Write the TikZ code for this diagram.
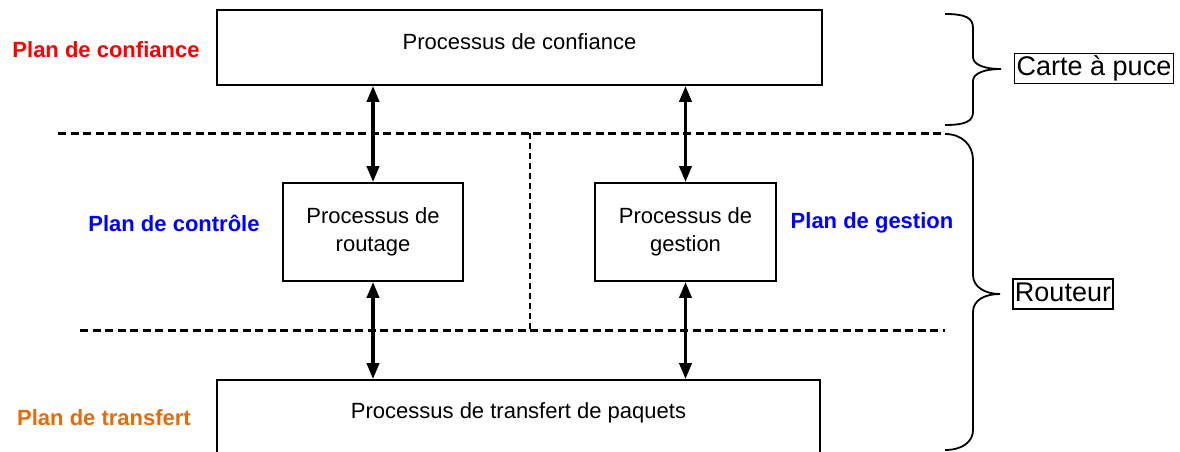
\documentclass[tikz,border=0pt]{standalone}
\usepackage{fontspec}
\setmainfont{Liberation Sans}
\usetikzlibrary{arrows.meta}
\definecolor{planred}{RGB}{255,0,0}
\definecolor{planblue}{RGB}{0,0,255}
\definecolor{planorange}{RGB}{228,108,10}
\begin{document}
\begin{tikzpicture}[x=1pt,y=-1pt,
 proc/.style={draw,line width=1.7pt,font=\fontsize{22}{28}\selectfont,align=center,inner sep=0pt},
 plan/.style={font=\bfseries\fontsize{22}{26}\selectfont},
 tag/.style={draw,line width=1.5pt,font=\fontsize{27}{32}\selectfont,inner sep=2pt,text height=20pt,text depth=6pt},
 flow/.style={line width=3.6pt,{Triangle[width=12pt,length=16pt]}-{Triangle[width=12pt,length=16pt]}},
 sep/.style={line width=3pt,dash pattern=on 8pt off 4.5pt},
 vsep/.style={line width=2.4pt,dash pattern=on 6pt off 4pt},
 brace/.style={line width=1.8pt}]
\clip (0,0) rectangle (1180,452);
% process boxes
\node[proc,minimum width=605,minimum height=75,text height=17pt,text depth=12pt] (conf) at (519.5,47.5) {Processus de confiance};
\node[proc,minimum width=180,minimum height=98] (routage) at (373,232) {Processus de\\routage};
\node[proc,minimum width=181,minimum height=98] (gestion) at (685.5,232) {Processus de\\gestion};
\node[proc,minimum width=603,minimum height=80,text height=16pt,text depth=20pt] (transf) at (518.5,420) {Processus de transfert de paquets};
% arrows
\draw[flow] (routage.north) -- (routage.north |- conf.south);
\draw[flow] (routage.south) -- (routage.south |- transf.north);
\draw[flow] (gestion.north) -- (gestion.north |- conf.south);
\draw[flow] (gestion.south) -- (gestion.south |- transf.north);
% separators
\coordinate (d1l) at (58,133);
\coordinate (d1r) at (945,133);
\coordinate (d2l) at (80,330);
\coordinate (d2r) at (945,330);
\coordinate (vt) at (530,133);
\coordinate (vb) at (530,330);
\draw[sep] (d1l) -- (d1r);
\draw[sep] (d2l) -- (d2r);
\draw[vsep] (vt) -- (vb);
% plane labels
\node[plan,text=planred] (lconf) at (106,50) {Plan de confiance};
\node[plan,text=planblue] (lctl) at (174,223) {Plan de contrôle};
\node[plan,text=planblue] (lges) at (872,223) {Plan de gestion};
\node[plan,text=planorange] (ltr) at (104,418) {Plan de transfert};
% tags
\node[tag] (carte) at (1094,68.5) {Carte à puce};
\node[tag] (routeur) at (1063,294) {Routeur};
\coordinate (t1) at (1001,69);
\coordinate (t2) at (1000,294);
% braces
\draw[brace] (945,14) .. controls (966,14) and (973,18) .. (973,28) -- (973,57)
  .. controls (973,65) and (985,69) .. (t1)
  .. controls (985,69) and (973,73) .. (973,81) -- (973,112)
  .. controls (973,121) and (966,125) .. (945,125);
\draw[brace] (945,134) .. controls (962,134) and (973,145) .. (973,160) -- (973,275)
  .. controls (973,287) and (985,294) .. (t2)
  .. controls (985,294) and (973,300) .. (973,312) -- (973,430)
  .. controls (973,442) and (962,450) .. (945,450);
\end{tikzpicture}
\end{document}
